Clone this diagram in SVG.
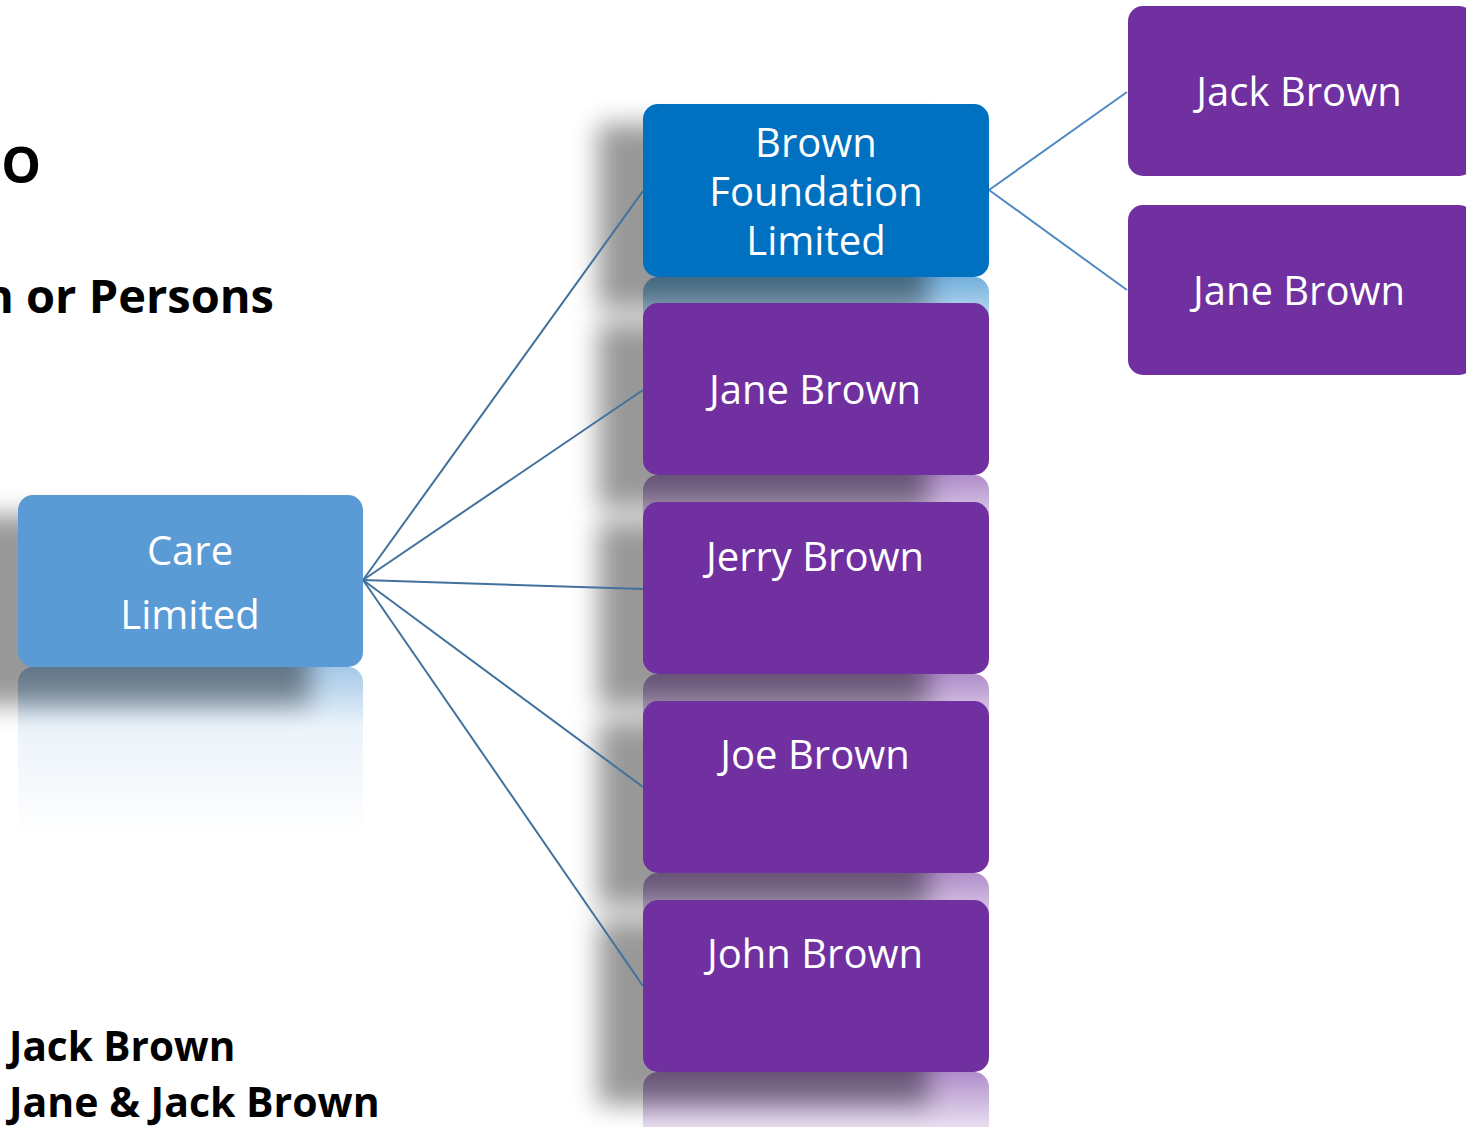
<svg xmlns="http://www.w3.org/2000/svg" width="1466" height="1127" viewBox="0 0 1466 1127">
<style>
.lbl{font-family:"Open Sans","Noto Sans",sans-serif;font-size:40px;fill:#fff;text-anchor:middle}
.hd{font-family:"Open Sans","Noto Sans",sans-serif;font-weight:bold;fill:#000}
.con{fill:none;stroke-width:2}
</style>
<defs>
<filter id="sh" x="-30%" y="-40%" width="160%" height="180%"><feGaussianBlur stdDeviation="13"/></filter>
<linearGradient id="fade" x1="0" y1="0" x2="0" y2="1">
<stop offset="0" stop-color="#fff" stop-opacity="0.55"/>
<stop offset="0.35" stop-color="#fff" stop-opacity="0.12"/>
<stop offset="1" stop-color="#fff" stop-opacity="0"/>
</linearGradient>
<mask id="rm" maskContentUnits="objectBoundingBox"><rect x="0" y="0" width="1" height="1" fill="url(#fade)"/></mask>
</defs>
<rect width="1466" height="1127" fill="#fff"/>

<text class="hd" x="41" y="183" font-size="50" text-anchor="end">SCENARIO</text>
<text class="hd" x="274" y="313" font-size="47" text-anchor="end">Person or Persons</text>

<!-- reflections -->
<g id="reflections">
<rect x="18" y="667" width="345" height="172" rx="15" fill="#5B9BD5" mask="url(#rm)"/>
<rect x="643" y="277" width="346" height="172" rx="15" fill="#0070C0" mask="url(#rm)"/>
<rect x="643" y="475" width="346" height="172" rx="15" fill="#7030A0" mask="url(#rm)"/>
<rect x="643" y="674" width="346" height="172" rx="15" fill="#7030A0" mask="url(#rm)"/>
<rect x="643" y="873" width="346" height="172" rx="15" fill="#7030A0" mask="url(#rm)"/>
<rect x="643" y="1072" width="346" height="172" rx="15" fill="#7030A0" mask="url(#rm)"/>
</g>
<!-- shadows -->
<g id="shadows" fill="#000" opacity="0.4" filter="url(#sh)">
<rect x="-30" y="515" width="340" height="190"/>
<rect x="598" y="124" width="330" height="185"/>
<rect x="598" y="323" width="330" height="185"/>
<rect x="598" y="522" width="330" height="185"/>
<rect x="598" y="721" width="330" height="185"/>
<rect x="598" y="920" width="330" height="185"/>
</g>

<g id="connectors">
<g stroke="#41719C" class="con">
<line x1="363" y1="580" x2="643" y2="191"/>
<line x1="363" y1="580" x2="643" y2="390"/>
<line x1="363" y1="580" x2="643" y2="589"/>
<line x1="363" y1="580" x2="643" y2="787"/>
<line x1="363" y1="580" x2="643" y2="986"/>
</g>
<g stroke="#4F8AC2" class="con">
<line x1="989" y1="190" x2="1127" y2="92"/>
<line x1="989" y1="190" x2="1127" y2="290"/>
</g>
</g>

<g id="care">
<rect x="18" y="495" width="345" height="172" rx="15" fill="#5B9BD5"/>
<text class="lbl" x="190" y="565">Care</text>
<text class="lbl" x="190" y="629">Limited</text>
</g>
<g id="foundation">
<rect x="643" y="104" width="346" height="173" rx="15" fill="#0070C0"/>
<text class="lbl" x="816" y="157">Brown</text>
<text class="lbl" x="816" y="206">Foundation</text>
<text class="lbl" x="816" y="255">Limited</text>
</g>
<g id="jane1">
<rect x="643" y="303" width="346" height="172" rx="15" fill="#7030A0"/>
<text class="lbl" x="815" y="404">Jane Brown</text>
</g>
<g id="jerry">
<rect x="643" y="502" width="346" height="172" rx="15" fill="#7030A0"/>
<text class="lbl" x="815" y="571">Jerry Brown</text>
</g>
<g id="joe">
<rect x="643" y="701" width="346" height="172" rx="15" fill="#7030A0"/>
<text class="lbl" x="815" y="769">Joe Brown</text>
</g>
<g id="john">
<rect x="643" y="900" width="346" height="172" rx="15" fill="#7030A0"/>
<text class="lbl" x="815" y="968">John Brown</text>
</g>
<g id="jack2">
<rect x="1128" y="6" width="346" height="170" rx="15" fill="#7030A0"/>
<text class="lbl" x="1299" y="106">Jack Brown</text>
</g>
<g id="jane2">
<rect x="1128" y="205" width="346" height="170" rx="15" fill="#7030A0"/>
<text class="lbl" x="1299" y="305">Jane Brown</text>
</g>

<text class="hd" x="9" y="1061" font-size="40.5">Jack Brown</text>
<text class="hd" x="9" y="1117" font-size="41">Jane &amp; Jack Brown</text>
</svg>
